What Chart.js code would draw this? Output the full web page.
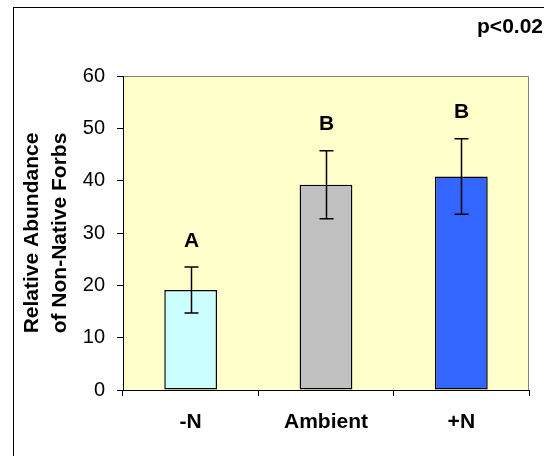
<!DOCTYPE html>
<html>
<head>
<meta charset="utf-8">
<script src="https://cdn.jsdelivr.net/npm/chart.js@4/dist/chart.umd.min.js"></script>
<style>
  body { margin: 0; background: #fff; }
  #wrap { width: 544px; height: 456px; position: relative; }
</style>
</head>
<body>
<div id="wrap"><canvas id="bar-chart-area"></canvas></div>
<script>
var arrLabel = ['-N', 'Ambient', '+N'];
var arrMean = [19.1, 39.2, 40.8];
var arrErr = [4.4, 6.5, 7.2];
var arrLetter = ['A', 'B', 'B'];
var arrColor = ['#CCFFFF', '#C0C0C0', '#3366FF'];
var yTicks = [0, 10, 20, 30, 40, 50, 60];
var pText = 'p<0.02';
var yTitle = ['Relative Abundance', 'of Non-Native Forbs'];

var fontFam = '"Liberation Sans", Arial, sans-serif';

// yellow plot area + grey top/right frame
var plotBg = {
    id: 'plotBg',
    beforeDraw: function (chart) {
        var a = chart.chartArea, c = chart.ctx;
        c.save();
        c.fillStyle = '#FFFFCC';
        c.fillRect(a.left, a.top, a.right - a.left, a.bottom - a.top);
        c.strokeStyle = '#808080';
        c.lineWidth = 1;
        c.beginPath();
        c.moveTo(a.left, a.top + 0.5);
        c.lineTo(a.right - 0.5, a.top + 0.5);
        c.lineTo(a.right - 0.5, a.bottom);
        c.stroke();
        c.restore();
    }
};

// error bars and letter labels
var errBars = {
    id: 'errBars',
    afterDatasetsDraw: function (chart) {
        var c = chart.ctx, y = chart.scales.y;
        var meta = chart.getDatasetMeta(0);
        c.save();
        c.strokeStyle = '#000';
        c.lineWidth = 1.5;
        c.fillStyle = '#000';
        c.font = 'bold 21px ' + fontFam;
        c.textAlign = 'center';
        c.textBaseline = 'middle';
        meta.data.forEach(function (bar, i) {
            var x = Math.round(bar.x) + 0.5;
            var yT = y.getPixelForValue(arrMean[i] + arrErr[i]);
            var yB = y.getPixelForValue(arrMean[i] - arrErr[i]);
            c.beginPath();
            c.moveTo(x, yT); c.lineTo(x, yB);
            c.moveTo(x - 7, yT); c.lineTo(x + 7, yT);
            c.moveTo(x - 7, yB); c.lineTo(x + 7, yB);
            c.stroke();
            c.fillText(arrLetter[i], x, y.getPixelForValue(arrMean[i] + arrErr[i] + 5));
        });
        c.restore();
    },
    afterDraw: function (chart) {
        var c = chart.ctx;
        c.save();
        c.fillStyle = '#000';
        c.font = 'bold 21px ' + fontFam;
        c.textAlign = 'right';
        c.textBaseline = 'middle';
        c.fillText(pText, 543, 27);
        c.strokeStyle = '#000';
        c.lineWidth = 1;
        c.strokeRect(13.5, 7.5, 700, 700);
        c.restore();
    }
};

var configBar = {
    type: 'bar',
    data: {
        labels: arrLabel,
        datasets: [{
            data: arrMean,
            backgroundColor: arrColor,
            borderColor: '#000',
            borderWidth: 1.5,
            borderSkipped: false,
            barPercentage: 0.39,
            categoryPercentage: 1
        }]
    },
    options: {
        responsive: true,
        maintainAspectRatio: false,
        animation: false,
        layout: { padding: { top: 76, right: 15, bottom: 0, left: 0 } },
        plugins: {
            legend: { display: false },
            tooltip: { enabled: false }
        },
        scales: {
            x: {
                afterFit: function (s) { s.height = 66; },
                grid: { offset: true, drawOnChartArea: false, tickLength: 6, color: '#000' },
                border: { color: '#000', width: 1 },
                ticks: {
                    color: '#000',
                    padding: 14,
                    font: { family: fontFam, size: 21, weight: 'bold' }
                }
            },
            y: {
                min: 0,
                max: 60,
                afterFit: function (s) { s.width = 123; },
                afterBuildTicks: function (s) {
                    s.ticks = yTicks.map(function (v) { return { value: v }; });
                },
                grid: { drawOnChartArea: false, tickLength: 6, color: '#000' },
                border: { color: '#000', width: 1 },
                ticks: {
                    color: '#000',
                    padding: 12,
                    font: { family: fontFam, size: 20 }
                },
                title: {
                    display: true,
                    text: yTitle,
                    color: '#000',
                    padding: { top: 19, bottom: 0 },
                    font: { family: fontFam, size: 21, weight: 'bold', lineHeight: 1.3 }
                }
            }
        }
    },
    plugins: [plotBg, errBars]
};

var myChartBar = document.getElementById('bar-chart-area').getContext('2d');
var myBar = new Chart(myChartBar, configBar);
</script>
</body>
</html>
